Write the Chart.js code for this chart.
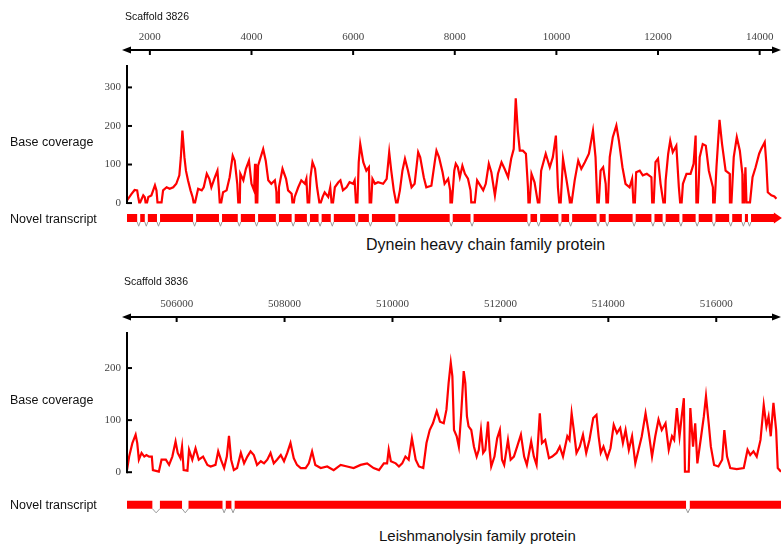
<!DOCTYPE html>
<html>
<head>
<meta charset="utf-8">
<script src="https://cdn.jsdelivr.net/npm/chart.js@4/dist/chart.umd.min.js"></script>
<style>
  body { margin: 0; background: #fff; width: 782px; height: 550px; position: relative; overflow: hidden;
         font-family: "Liberation Sans", Arial, sans-serif; color: #111; }
  .box { position: absolute; left: 0; width: 782px; }
  .lbl { position: absolute; white-space: nowrap; }
</style>
</head>
<body>
<div class="box" style="top:0;height:232px"><canvas id="cov1"></canvas></div>
<div class="box" style="top:267px;height:250px"><canvas id="cov2"></canvas></div>

<div class="lbl" style="left:125px;top:10px;font-size:10.5px;line-height:12px">Scaffold 3826</div>
<div class="lbl" style="left:10px;top:135px;font-size:12.5px;line-height:14px">Base coverage</div>
<div class="lbl" style="left:10px;top:212px;font-size:12.5px;line-height:14px">Novel transcript</div>
<div class="lbl" style="left:366px;top:236px;font-size:16px;line-height:18px">Dynein heavy chain family protein</div>

<div class="lbl" style="left:124px;top:275px;font-size:10.5px;line-height:12px">Scaffold 3836</div>
<div class="lbl" style="left:10px;top:393px;font-size:12.5px;line-height:14px">Base coverage</div>
<div class="lbl" style="left:10px;top:498px;font-size:12.5px;line-height:14px">Novel transcript</div>
<div class="lbl" style="left:379px;top:527px;font-size:15px;line-height:17px">Leishmanolysin family protein</div>

<script>
// ---- scaffold 3826 (dynein heavy chain) ----
const xTicks1 = [2000, 4000, 6000, 8000, 10000, 12000, 14000];
const yTicks1 = [0, 100, 200, 300];
// [position, base coverage]
const depth1 = [
  [1550,7],[1640,24],[1700,34],[1750,33],[1770,16],[1790,2],[1810,2],[1870,20],[1900,15],[1915,2],[1945,2],
  [1970,16],[2030,20],[2100,46],[2130,33],[2150,2],[2230,2],[2260,33],[2330,41],[2390,37],[2460,41],[2520,50],
  [2580,72],[2610,119],[2640,188],[2680,119],[2710,84],[2750,59],[2800,33],[2840,16],[2860,2],[2890,2],[2950,37],
  [3020,33],[3060,41],[3120,76],[3170,63],[3210,41],[3280,67],[3330,84],[3360,33],[3375,2],[3405,2],[3440,28],
  [3510,33],[3570,67],[3630,123],[3670,110],[3720,50],[3740,2],[3770,2],[3780,76],[3840,59],[3890,89],[3950,110],
  [4000,50],[4050,33],[4070,102],[4085,2],[4115,2],[4130,97],[4180,119],[4230,140],[4280,110],[4330,59],[4390,50],
  [4460,59],[4490,30],[4495,2],[4525,2],[4540,41],[4610,89],[4680,63],[4720,33],[4790,24],[4805,2],[4835,2],
  [4850,16],[4920,41],[4980,59],[5050,50],[5080,63],[5105,2],[5135,2],[5160,67],[5200,106],[5250,89],[5290,41],
  [5335,2],[5365,2],[5400,16],[5440,28],[5510,16],[5550,41],[5575,2],[5605,2],[5640,41],[5710,54],[5750,59],
  [5800,33],[5870,41],[5930,54],[6000,50],[6030,59],[6055,2],[6085,2],[6110,106],[6140,153],[6200,106],[6260,84],
  [6310,93],[6325,2],[6355,2],[6380,63],[6430,50],[6490,54],[6590,50],[6660,63],[6710,132],[6750,84],[6800,33],
  [6845,2],[6875,2],[6920,33],[6970,84],[7020,115],[7080,84],[7150,41],[7210,50],[7280,132],[7320,119],[7390,67],
  [7440,41],[7540,45],[7610,110],[7640,136],[7690,119],[7760,80],[7800,50],[7870,63],[7910,33],[7915,2],[7945,2],
  [7990,84],[8020,102],[8060,93],[8100,67],[8150,97],[8200,76],[8260,63],[8310,33],[8325,2],[8395,2],[8440,59],
  [8500,46],[8560,33],[8610,50],[8670,102],[8720,80],[8790,20],[8850,76],[8920,106],[8980,89],[9050,67],[9110,115],
  [9160,140],[9200,272],[9240,188],[9280,136],[9340,136],[9400,128],[9440,41],[9450,2],[9475,2],[9510,76],[9570,54],
  [9635,2],[9665,2],[9700,84],[9790,128],[9870,93],[9930,119],[9990,175],[10030,41],[10055,2],[10085,2],[10130,115],
  [10200,59],[10250,17],[10265,2],[10300,2],[10360,59],[10430,110],[10490,89],[10560,106],[10640,128],[10720,188],
  [10770,119],[10805,2],[10835,2],[10870,84],[10920,93],[10970,50],[10985,2],[11015,2],[11050,119],[11110,171],
  [11180,201],[11230,162],[11300,93],[11360,50],[11440,41],[11490,63],[11515,2],[11545,2],[11570,80],[11640,84],
  [11700,72],[11780,76],[11870,67],[11885,2],[11915,2],[11950,106],[12000,115],[12050,50],[12105,2],[12135,2],
  [12150,59],[12200,128],[12240,162],[12290,132],[12360,149],[12410,41],[12435,2],[12465,2],[12490,50],[12560,76],
  [12640,76],[12700,102],[12740,175],[12755,2],[12785,2],[12820,119],[12880,153],[12940,149],[13000,84],[13080,41],
  [13085,2],[13115,2],[13150,93],[13210,216],[13260,153],[13330,84],[13410,76],[13415,2],[13445,2],[13490,119],
  [13550,171],[13610,136],[13660,76],[13665,2],[13695,2],[13720,93],[13740,2],[13810,2],[13860,67],[13920,93],
  [13990,128],[14030,140],[14100,158],[14130,106],[14160,28],[14230,20],[14290,17],[14330,11]
];
const transcript1 = [1550, 14300];
const introns1 = [
  [1750,1810],[1900,1960],[2140,2200],[2850,2910],[3360,3420],[3730,3790],[4070,4130],[4480,4540],
  [4790,4850],[5090,5150],[5320,5380],[5560,5620],[6040,6100],[6310,6370],[6830,6890],[7900,7960],
  [8310,8370],[9430,9490],[9620,9680],[10040,10100],[10250,10310],[10790,10850],[10970,11030],[11500,11560],
  [11870,11930],[12090,12150],[12420,12480],[12740,12800],[13070,13130],[13400,13460],[13650,13710],[13770,13830]
];

// ---- scaffold 3836 (leishmanolysin) ----
const xTicks2 = [506000, 508000, 510000, 512000, 514000, 516000];
const yTicks2 = [0, 100, 200];
const depth2 = [
  [505080,4],[505120,30],[505180,56],[505240,72],[505270,56],[505300,24],[505350,37],[505400,30],[505440,33],
  [505490,30],[505540,30],[505560,4],[505670,1],[505720,24],[505800,24],[505860,14],[505920,30],[505980,59],
  [506020,37],[506070,27],[506100,49],[506130,4],[506200,3],[506230,43],[506290,24],[506350,46],[506410,24],
  [506490,30],[506570,14],[506630,11],[506720,14],[506770,40],[506820,24],[506880,8],[506930,30],[506970,70],
  [507010,24],[507060,4],[507120,8],[507190,37],[507250,17],[507310,30],[507370,40],[507430,33],[507490,14],
  [507560,21],[507620,17],[507680,24],[507740,37],[507800,17],[507860,24],[507930,33],[507990,21],[508050,37],
  [508110,56],[508170,27],[508230,14],[508300,8],[508390,8],[508450,17],[508510,40],[508570,14],[508670,8],
  [508790,11],[508910,4],[509040,14],[509160,11],[509280,8],[509410,14],[509530,17],[509650,8],[509750,4],
  [509840,17],[509900,17],[509930,43],[509970,21],[510060,17],[510120,11],[510180,17],[510240,30],[510300,24],
  [510360,65],[510430,24],[510490,11],[510570,8],[510630,56],[510690,81],[510750,94],[510820,117],[510880,97],
  [510950,94],[511000,120],[511040,171],[511080,210],[511110,184],[511140,81],[511190,69],[511230,49],[511270,107],
  [511320,194],[511350,171],[511380,107],[511410,88],[511460,81],[511510,49],[511560,30],[511600,43],[511640,81],
  [511680,37],[511720,43],[511770,97],[511800,43],[511830,11],[511890,30],[511940,65],[511990,81],[512030,24],
  [512070,14],[512140,62],[512190,24],[512250,30],[512310,49],[512380,72],[512440,30],[512490,14],[512570,59],
  [512620,30],[512670,14],[512730,113],[512770,56],[512830,62],[512900,27],[512960,30],[513040,37],[513100,49],
  [513160,30],[513240,69],[513280,62],[513320,113],[513360,81],[513410,37],[513470,49],[513530,72],[513590,37],
  [513650,62],[513720,104],[513780,110],[513820,69],[513860,37],[513910,49],[513980,27],[514040,46],[514100,91],
  [514160,75],[514220,85],[514270,56],[514320,81],[514380,43],[514440,69],[514500,17],[514560,43],[514620,69],
  [514690,113],[514750,75],[514810,30],[514870,69],[514930,101],[514990,81],[515060,94],[515120,43],[515180,69],
  [515220,62],[515270,123],[515320,69],[515360,107],[515400,142],[515420,1],[515490,1],[515520,123],[515570,49],
  [515610,94],[515650,17],[515720,69],[515770,107],[515810,146],[515860,94],[515900,49],[515960,14],[516040,11],
  [516110,24],[516150,81],[516200,30],[516260,8],[516380,6],[516510,8],[516580,43],[516630,33],[516690,40],
  [516750,30],[516820,62],[516880,129],[516930,88],[516970,107],[517010,69],[517060,133],[517110,81],[517140,8],
  [517200,1]
];
const transcript2 = [505080, 517200];
const introns2 = [[505550,505690],[506100,506220],[506850,506910],[507015,507075],[515440,515510]];

const RED = '#ff0000';
const serif = { family: '"Liberation Serif", "Times New Roman", serif', size: 11 };

// top axis with arrow heads, inner ticks, a short left axis, and the transcript arrow head
const axisArt = {
  id: 'axisArt',
  afterDraw(chart, args, opts) {
    const { ctx, chartArea, scales: { x, y } } = chart;
    ctx.save();
    ctx.strokeStyle = '#000';
    ctx.fillStyle = '#000';
    ctx.lineWidth = 2;
    const ay = chartArea.top;
    const l = chartArea.left - 5, r = chart.width - 1;
    ctx.beginPath(); ctx.moveTo(l + 6, ay); ctx.lineTo(r - 6, ay); ctx.stroke();
    ctx.beginPath(); ctx.moveTo(l, ay); ctx.lineTo(l + 9, ay - 3.5); ctx.lineTo(l + 9, ay + 3.5); ctx.closePath(); ctx.fill();
    ctx.beginPath(); ctx.moveTo(r, ay); ctx.lineTo(r - 9, ay - 3.5); ctx.lineTo(r - 9, ay + 3.5); ctx.closePath(); ctx.fill();
    x.ticks.forEach(t => {
      const px = x.getPixelForValue(t.value);
      ctx.beginPath(); ctx.moveTo(px, ay); ctx.lineTo(px, ay + 5); ctx.stroke();
    });
    const lx = chartArea.left;
    ctx.beginPath(); ctx.moveTo(lx, y.getPixelForValue(opts.top)); ctx.lineTo(lx, y.getPixelForValue(0) + 1); ctx.stroke();
    y.ticks.forEach(t => {
      const py = y.getPixelForValue(t.value);
      ctx.beginPath(); ctx.moveTo(lx, py); ctx.lineTo(lx + 5, py); ctx.stroke();
    });
    if (opts.arrowAt) {
      const ax = x.getPixelForValue(opts.arrowAt), by = y.getPixelForValue(opts.trackY);
      ctx.fillStyle = RED;
      ctx.beginPath(); ctx.moveTo(ax + 7, by); ctx.lineTo(ax - 1, by - 5.5); ctx.lineTo(ax - 1, by + 5.5); ctx.closePath(); ctx.fill();
    }
    ctx.restore();
  }
};

function trackData(span, introns, yy) {
  const pts = [];
  let s = span[0];
  introns.forEach(([a, b]) => {
    pts.push({ x: s, y: yy }, { x: a, y: yy }, { x: a, y: null });
    s = b;
  });
  pts.push({ x: s, y: yy }, { x: span[1], y: yy });
  return pts;
}

function caretData(introns, base, tip) {
  const pts = [];
  introns.forEach(([a, b]) => {
    pts.push({ x: a, y: base }, { x: (a + b) / 2, y: tip }, { x: b, y: base }, { x: b, y: null });
  });
  return pts;
}

function makeChart(id, p) {
  const datasets = [
    { data: p.depth.map(d => ({ x: d[0], y: d[1] })), borderColor: RED, borderWidth: 2.2,
      pointRadius: 0, tension: 0, order: 1 },
    { data: trackData(p.span, p.introns, p.track.y), borderColor: RED, borderWidth: 8,
      borderCapStyle: 'butt', pointRadius: 0, spanGaps: false, order: 2 },
    { data: caretData(p.introns, p.track.base, p.track.tip), borderColor: '#9a9a9a', borderWidth: 1,
      pointRadius: 0, spanGaps: false, order: 3 }
  ];
  return new Chart(id, {
    type: 'line',
    data: { datasets },
    options: {
      responsive: true,
      maintainAspectRatio: false,
      animation: false,
      layout: { padding: { left: 0, right: 1, top: 0, bottom: 0 } },
      plugins: {
        legend: { display: false },
        tooltip: { enabled: false },
        axisArt: { top: p.axisTop, arrowAt: p.arrow ? p.span[1] : null, trackY: p.track.y }
      },
      scales: {
        x: {
          type: 'linear', position: 'top', min: p.min, max: p.max,
          afterBuildTicks: s => { s.ticks = p.xTicks.map(v => ({ value: v })); },
          afterFit: s => { s.height = 50; s.paddingLeft = 0; s.paddingRight = 0; },
          ticks: { font: serif, color: '#444', padding: 6, maxRotation: 0, autoSkip: false, callback: v => String(v) },
          grid: { display: false, drawTicks: false },
          border: { display: false }
        },
        y: {
          min: p.ymin, max: p.ymax,
          afterBuildTicks: s => { s.ticks = p.yTicks.map(v => ({ value: v })); },
          afterFit: s => { s.width = 127; s.paddingTop = 0; s.paddingBottom = 0; },
          ticks: { font: serif, color: '#444', padding: 6, callback: v => String(v) },
          grid: { display: false, drawTicks: false },
          border: { display: false }
        }
      }
    },
    plugins: [axisArt]
  });
}

makeChart('cov1', {
  depth: depth1, span: transcript1, introns: introns1, xTicks: xTicks1, yTicks: yTicks1,
  min: 1550, max: 14420, ymin: -75, ymax: 397, axisTop: 358,
  track: { y: -39, base: -49, tip: -60 }, arrow: true
});

makeChart('cov2', {
  depth: depth2, span: transcript2, introns: introns2, xTicks: xTicks2, yTicks: yTicks2,
  min: 505080, max: 517200, ymin: -86, ymax: 298, axisTop: 269,
  track: { y: -62.5, base: -70, tip: -78 }, arrow: false
});
</script>
</body>
</html>
